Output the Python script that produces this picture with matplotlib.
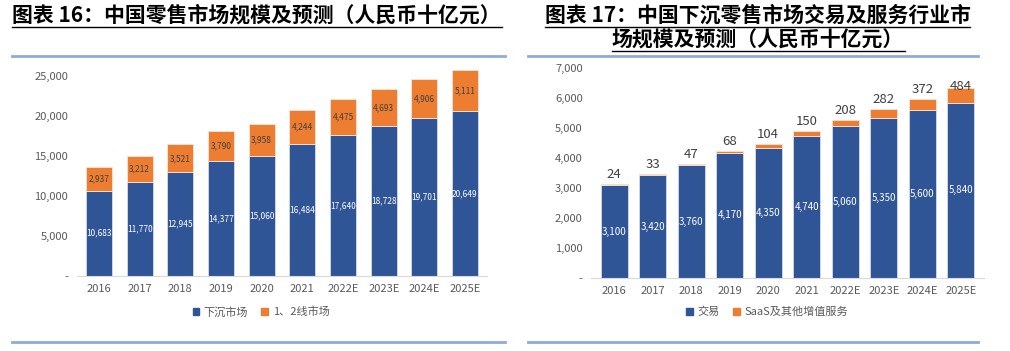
import matplotlib
matplotlib.use('Agg')
import matplotlib.pyplot as plt
from matplotlib.lines import Line2D
from matplotlib.patches import Patch
import numpy as np

plt.rcParams['font.family'] = ['Noto Sans CJK SC', 'DejaVu Sans']

years = ['2016', '2017', '2018', '2019', '2020', '2021', '2022E', '2023E', '2024E', '2025E']

# left chart: retail market size
lower_tier = [10683, 11770, 12945, 14377, 15060, 16484, 17640, 18728, 19701, 20649]
top_tier = [2937, 3212, 3521, 3790, 3958, 4244, 4475, 4693, 4906, 5111]

# right chart: lower-tier trade and services
trade = [3100, 3420, 3760, 4170, 4350, 4740, 5060, 5350, 5600, 5840]
saas = [24, 33, 47, 68, 104, 150, 208, 282, 372, 484]

BLUE = '#2F5597'
ORANGE = '#ED7D31'
GRAY = '#595959'
LINE_BLUE = '#8FAADC'

W, H = 1010, 351
fig = plt.figure(figsize=(W / 100, H / 100), dpi=100)


def px(x, y):
    return x / W, 1 - y / H


def hline(x0, x1, y, color, lw):
    a, b = px(x0, y)
    c, _ = px(x1, y)
    fig.add_artist(Line2D([a, c], [b, b], color=color, lw=lw, transform=fig.transFigure))


def fmt(v):
    return '-' if v == 0 else '{:,}'.format(int(v))


def style_axes(ax, ymax, step):
    ax.set_ylim(0, ymax)
    ticks = np.arange(0, ymax + 1, step)
    ax.set_yticks(ticks)
    ax.set_yticklabels([fmt(t) for t in ticks])
    ax.set_xticks(range(len(years)))
    ax.set_xticklabels(years)
    for s in ['top', 'right', 'left']:
        ax.spines[s].set_visible(False)
    ax.spines['bottom'].set_color('#D9D9D9')
    ax.tick_params(axis='both', length=0, colors=GRAY, labelsize=8)
    ax.tick_params(axis='x', pad=6)
    ax.tick_params(axis='y', pad=6)


# ---- left chart
ax1 = fig.add_axes([76.6 / W, 1 - 276 / H, 410.8 / W, 216 / H])
x = np.arange(len(years))
ax1.bar(x, lower_tier, width=0.64, color=BLUE, edgecolor='#D6DCE5', lw=0.6)
ax1.bar(x, top_tier, width=0.64, bottom=lower_tier, color=ORANGE, edgecolor='#FBE5D6', lw=0.6)
style_axes(ax1, 25000, 5000)
ax1.set_ylim(0, 27000)
ax1.set_xlim(-0.55, 9.55)
for i in range(len(years)):
    ax1.text(i, lower_tier[i] / 2, fmt(lower_tier[i]), ha='center', va='center',
             color='white', fontsize=6)
    ax1.text(i, lower_tier[i] + top_tier[i] / 2, fmt(top_tier[i]), ha='center', va='center',
             color='#404040', fontsize=6)

# ---- right chart
ax2 = fig.add_axes([591 / W, 1 - 278 / H, 393 / W, 216 / H])
ax2.bar(x, trade, width=0.7, color=BLUE, edgecolor='#D6DCE5', lw=0.6)
ax2.bar(x, saas, width=0.7, bottom=trade, color=ORANGE, edgecolor='#FBE5D6', lw=0.6)
style_axes(ax2, 7000, 1000)
ax2.set_ylim(0, 7200)
ax2.set_xlim(-0.6, 9.6)
for i in range(len(years)):
    ax2.text(i, trade[i] / 2, fmt(trade[i]), ha='center', va='center',
             color='white', fontsize=7)
    top = trade[i] + saas[i]
    ax2.text(i, min(top + 100, 6160), str(saas[i]), ha='center', va='bottom',
             color='#404040', fontsize=9.5)

# ---- legends
fig.legend(handles=[Patch(color=BLUE, label='下沉市场'), Patch(color=ORANGE, label='1、2线市场')],
           loc='center', bbox_to_anchor=px(261, 312), ncol=2, frameon=False, fontsize=8,
           handlelength=0.6, handleheight=0.6, handletextpad=0.4, columnspacing=1.2,
           labelcolor=GRAY)
fig.legend(handles=[Patch(color=BLUE, label='交易'), Patch(color=ORANGE, label='SaaS及其他增值服务')],
           loc='center', bbox_to_anchor=px(767, 312), ncol=2, frameon=False, fontsize=8,
           handlelength=0.6, handleheight=0.6, handletextpad=0.4, columnspacing=1.2,
           labelcolor=GRAY)

# ---- titles
fig.text(*px(12, 15), '图表 16：中国零售市场规模及预测（人民币十亿元）', fontsize=15,
         fontweight='bold', va='center', ha='left', color='black')
hline(12, 502, 27, 'black', 1.0)
fig.text(*px(758, 15), '图表 17：中国下沉零售市场交易及服务行业市', fontsize=15,
         fontweight='bold', va='center', ha='center', color='black')
hline(545, 970, 27, 'black', 1.0)
fig.text(*px(758, 40), '场规模及预测（人民币十亿元）', fontsize=15,
         fontweight='bold', va='center', ha='center', color='black')
hline(612, 905, 51, 'black', 1.0)

hline(12, 505, 56, LINE_BLUE, 2)
hline(528, 978, 56, LINE_BLUE, 2)
hline(12, 505, 342, LINE_BLUE, 2)
hline(528, 978, 342, LINE_BLUE, 2)

fig.savefig('out.png', dpi=100, facecolor='white')
